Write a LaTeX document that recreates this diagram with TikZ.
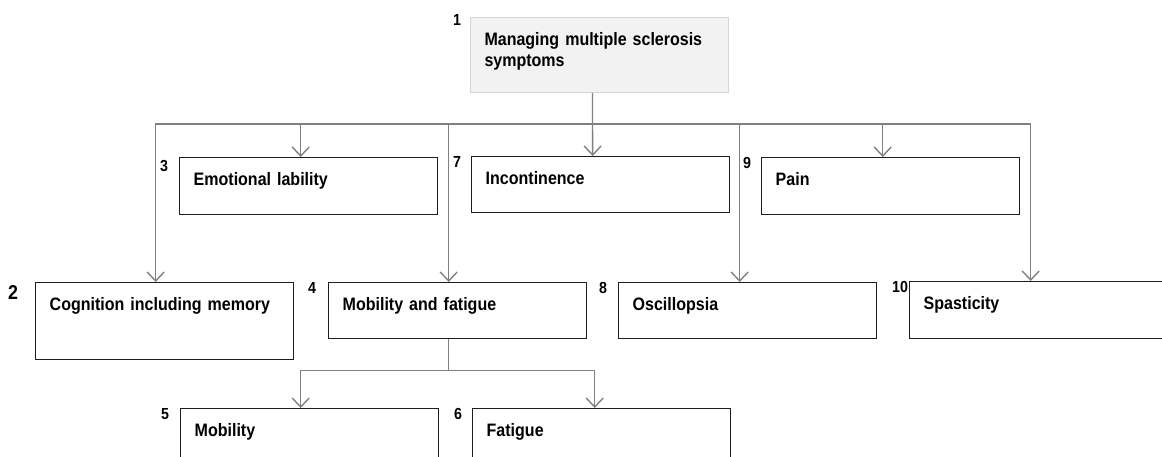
\documentclass[tikz,border=0pt]{standalone}
\usepackage{fontspec}
\setmainfont{Liberation Sans}
\newfontfamily\boxfont[FakeStretch=0.89,WordSpace=0.8]{Liberation Sans}
\usetikzlibrary{arrows.meta}
\definecolor{linegray}{HTML}{808080}
\definecolor{boxline}{HTML}{1E1E1E}
\definecolor{topfill}{HTML}{F2F2F2}
\definecolor{topline}{HTML}{D6D6D6}
\tikzset{
    BX/.style ={rectangle, draw=boxline, line width=1.4pt, anchor=north west, align=left, text width=230pt,
        inner xsep=14pt, inner ysep=0pt, text height=28pt, text depth=#1, font=\boxfont\fontsize{18}{21}\selectfont\bfseries},
    TP/.style ={BX=#1, fill=topfill, draw=topline, line width=1pt},
    NR/.style ={anchor=north west, inner sep=0pt, font=\boxfont\fontsize{16}{16}\selectfont\bfseries},
    CN/.style ={draw=linegray, line width=1.4pt},
    AR/.style ={CN, -{Straight Barb[length=9pt,width=17pt]}}}
\begin{document}
\begin{tikzpicture}[x=1pt,y=-1pt]
        \clip (0,0) rectangle (1162,457);
        % boxes
        \node[TP=47] (top) at (470,17) {Managing multiple sclerosis\\symptoms};
        \node[BX=29] (emo) at (179,157) {Emotional lability};
        \node[BX=28] (inc) at (471,156) {Incontinence};
        \node[BX=29] (pain) at (761,157) {Pain};
        \node[BX=49] (cog) at (35,282) {Cognition including memory};
        \node[BX=28] (mf) at (328,282) {Mobility and fatigue};
        \node[BX=28] (osc) at (618,282) {Oscillopsia};
        \node[BX=29] (spa) at (909,281) {Spasticity};
        \node[BX=28] (mob) at (180,408) {Mobility};
        \node[BX=28] (fat) at (472,408) {Fatigue};
        % numbers
        \node[NR] (n1) at ([xshift=-17,yshift=3]top.north west) {1};
        \node[NR,font=\boxfont\fontsize{20}{20}\selectfont\bfseries] (n2) at ([xshift=-27,yshift=-3]cog.north west) {2};
        \node[NR] (n3) at ([xshift=-19,yshift=-3]emo.north west) {3};
        \node[NR] (n4) at ([xshift=-20]mf.north west) {4};
        \node[NR] (n5) at ([xshift=-19]mob.north west) {5};
        \node[NR] (n6) at ([xshift=-18]fat.north west) {6};
        \node[NR] (n7) at ([xshift=-18]inc.north west) {7};
        \node[NR] (n8) at ([xshift=-19]osc.north west) {8};
        \node[NR] (n9) at ([xshift=-18]pain.north west) {9};
        \node[NR] (n10) at ([xshift=-17]spa.north west) {10};
        % connectors
        \coordinate (bus) at ([xshift=-7,yshift=-31]top.south);
        \draw[AR] ([xshift=-7]top.south) -- (bus) -- ([xshift=-8]inc.north);
        \draw[AR] (bus) -| ([xshift=-9]cog.north);
        \draw[AR] (bus) -| ([xshift=-8]emo.north);
        \draw[AR] (bus) -| ([xshift=-9]mf.north);
        \draw[AR] (bus) -| ([xshift=-8]osc.north);
        \draw[AR] (bus) -| ([xshift=-8]pain.north);
        \draw[AR] (bus) -| ([xshift=-8]spa.north);
        \coordinate (mfbus) at ([xshift=-9,yshift=-31]mf.south);
        \draw[AR] ([xshift=-9]mf.south) -- (mfbus) -| ([xshift=-9]mob.north);
        \draw[AR] (mfbus) -| ([xshift=-7]fat.north);
    \end{tikzpicture}
\end{document}
